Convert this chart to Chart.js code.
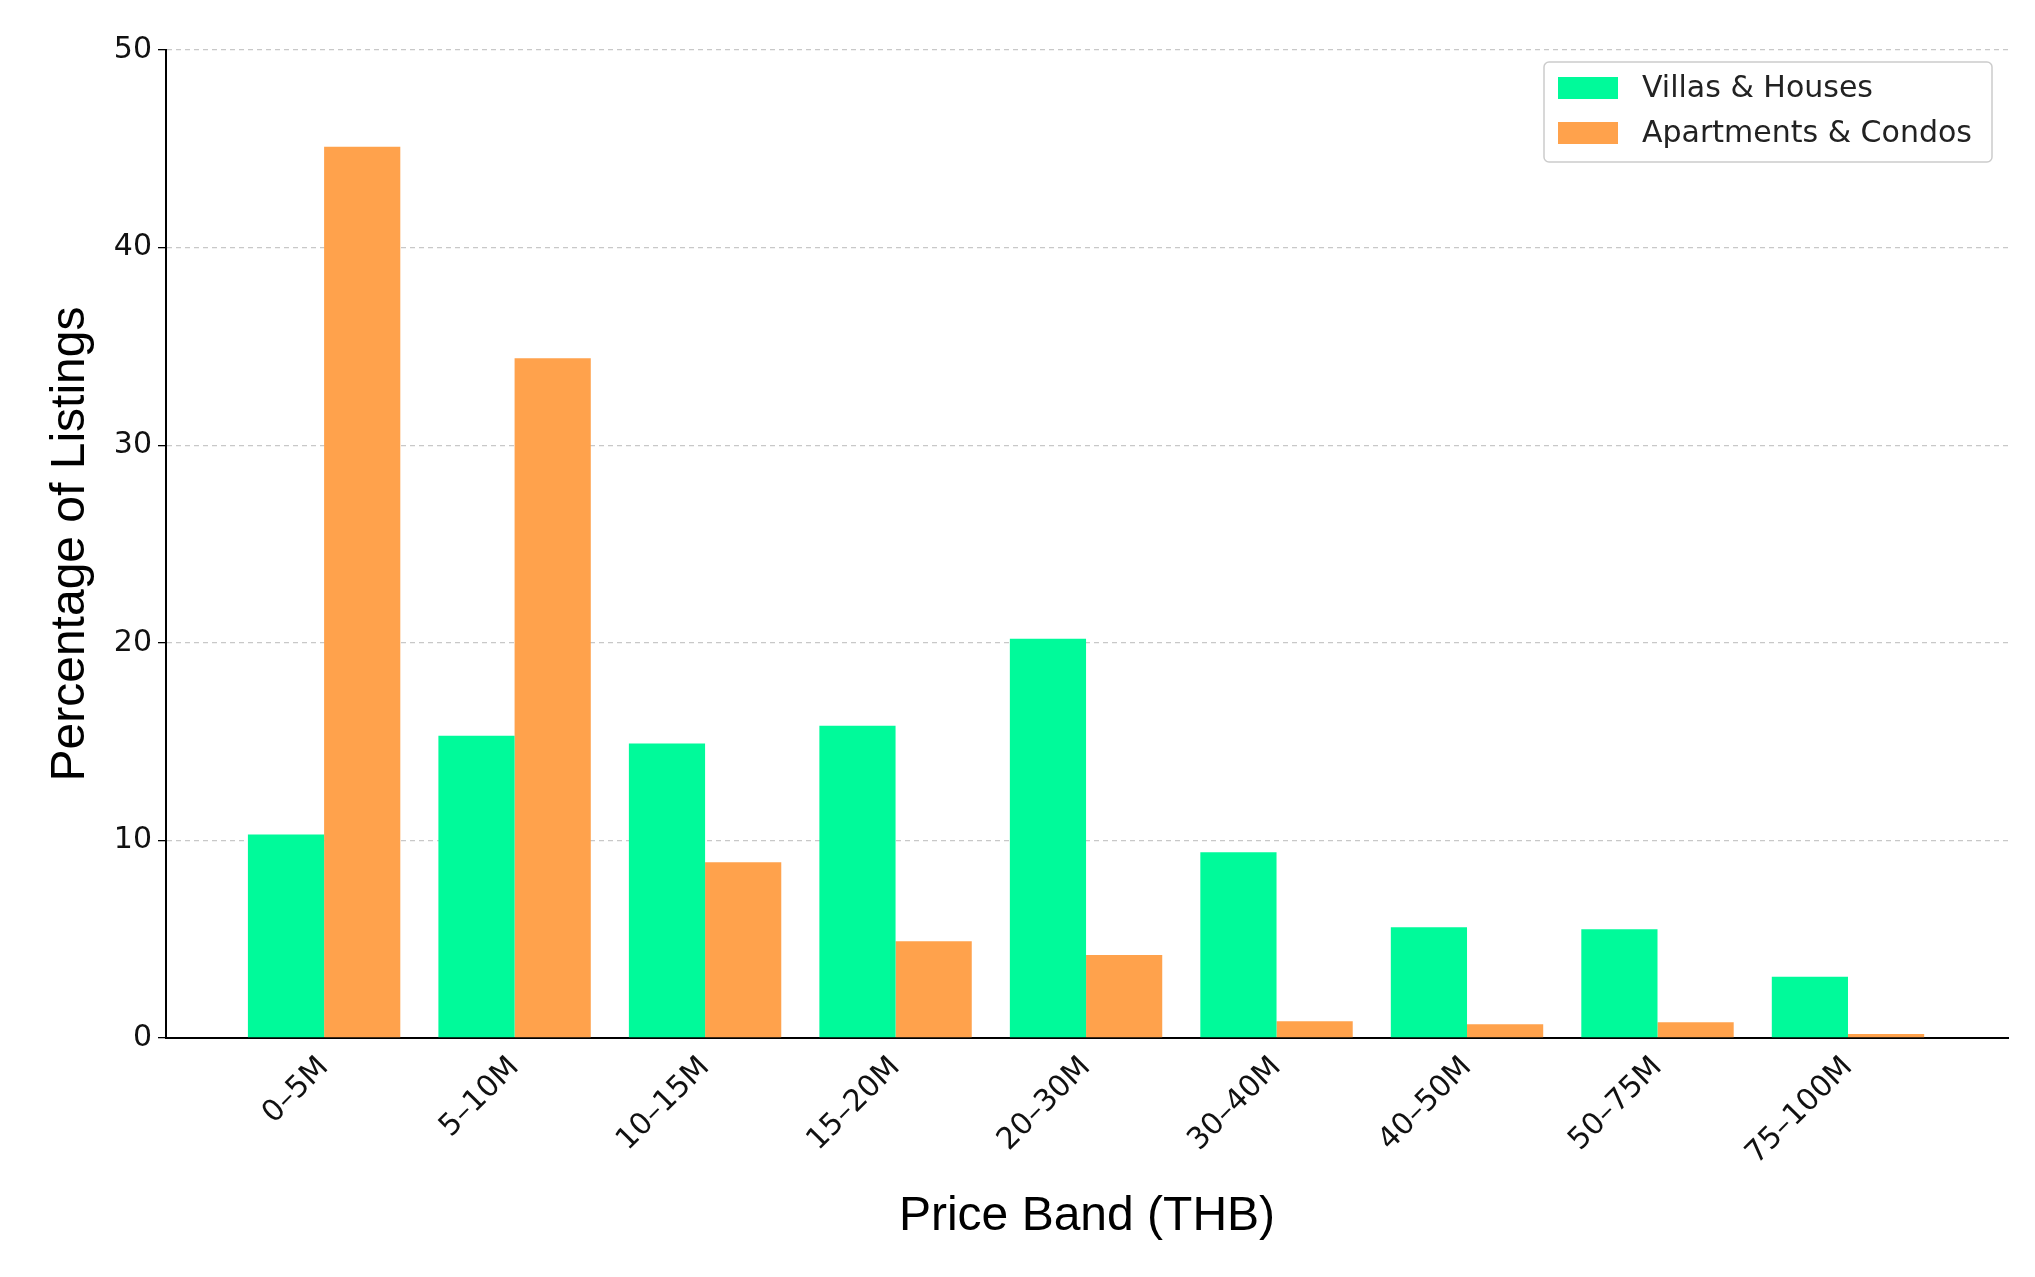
<!DOCTYPE html>
<html><head><meta charset="utf-8">
<script src="https://cdn.jsdelivr.net/npm/chart.js@4"></script>
<style>html,body{margin:0;padding:0;background:#fff}#w{width:2035px;height:1277px}</style>
</head><body><div id="w"><canvas id="c"></canvas></div>
<script>
const categories = ["0–5M","5–10M","10–15M","15–20M","20–30M","30–40M","40–50M","50–75M","75–100M"];
const villas = [10.3,15.3,14.9,15.8,20.2,9.4,5.6,5.5,3.1];
const apartments = [45.1,34.4,8.9,4.9,4.2,0.85,0.7,0.8,0.2];
const seriesNames = ["Villas & Houses","Apartments & Condos"];
const yTicks = [0,10,20,30,40,50];

const legendPlugin = {
  id:'boxLegend',
  afterDraw(chart){
    const ctx=chart.ctx, a=chart.chartArea;
    ctx.save();
    ctx.font='30px "DejaVu Sans"';
    const w=448,h=100,x=a.right-w-16,y=a.top+12;
    ctx.fillStyle='rgba(255,255,255,0.85)';ctx.strokeStyle='#cccccc';ctx.lineWidth=1.5;
    ctx.beginPath();ctx.roundRect(x,y,w,h,5);ctx.fill();ctx.stroke();
    chart.data.datasets.forEach((d,i)=>{
      const yy=y+26+i*45;
      ctx.fillStyle=d.backgroundColor;ctx.fillRect(x+14,yy-11,60,22);
      ctx.fillStyle='#222';ctx.textBaseline='middle';ctx.fillText(d.label,x+98,yy+1);
    });
    ctx.restore();
  }
};

new Chart(document.getElementById('c'),{
  type:'bar',
  data:{datasets:[
    {label:seriesNames[0],data:villas.map((v,i)=>({x:i,y:v})),backgroundColor:'#00FA9A'},
    {label:seriesNames[1],data:apartments.map((v,i)=>({x:i,y:v})),backgroundColor:'#FFA24C'}
  ]},
  options:{
    responsive:true,maintainAspectRatio:false,animation:false,
    layout:{padding:{top:50,right:27,left:38,bottom:27}},
    datasets:{bar:{categoryPercentage:0.8,barPercentage:1.0}},
    plugins:{legend:{display:false},tooltip:{enabled:false}},
    scales:{
      x:{type:'linear',min:-0.83,max:8.84,offset:false,
        afterBuildTicks(s){s.ticks=categories.map((c,i)=>({value:i}));},
        afterFit(s){s.height=212;},
        grid:{display:false,drawOnChartArea:false,drawTicks:true,tickLength:8,tickColor:'#000'},
        border:{color:'#000',width:2},
        ticks:{color:'#111',font:{family:'DejaVu Sans',size:30},maxRotation:45,minRotation:45,padding:4,autoSkip:false,
          callback:(v)=>categories[v]},
        title:{display:true,text:'Price Band (THB)',color:'#000',font:{family:'Liberation Sans',size:48},padding:{top:0}}
      },
      y:{min:0,max:50,
        afterBuildTicks(s){s.ticks=yTicks.map(v=>({value:v}));},
        afterFit(s){s.width=128;},
        grid:{color:'#c8c8c8',lineWidth:1.3,tickColor:'#000',tickLength:8,drawTicks:true,tickBorderDash:[0,0]},
        border:{color:'#000',width:2,dash:[5,4]},
        ticks:{color:'#111',font:{family:'DejaVu Sans',size:30},padding:6},
        title:{display:true,text:'Percentage of Listings',color:'#000',font:{family:'Liberation Sans',size:48},padding:{bottom:14}}
      }
    }
  },
  plugins:[legendPlugin]
});
</script></body></html>
